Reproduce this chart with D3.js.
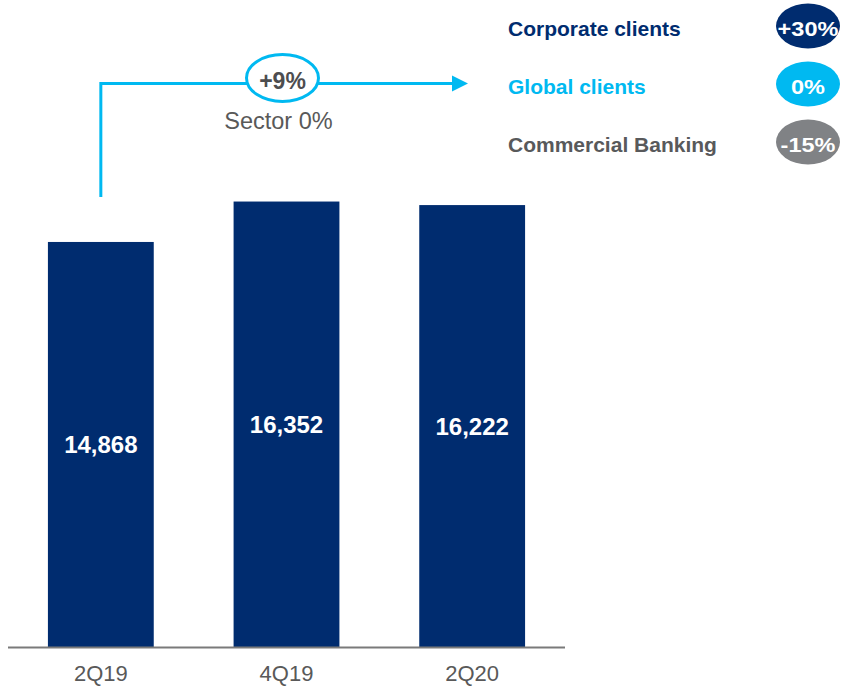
<!DOCTYPE html>
<html>
<head>
<meta charset="utf-8">
<script src="https://cdn.jsdelivr.net/npm/d3@7"></script>
<style>
  html, body { margin: 0; padding: 0; background: #fff; }
  svg { display: block; font-family: "Liberation Sans", Arial, Helvetica, sans-serif; }
</style>
</head>
<body>
<svg id="chart" width="846" height="686"></svg>
<script>
// Quarterly totals
const categories = ["2Q19", "4Q19", "2Q20"];
const values = [14868, 16352, 16222];

// Year-on-year growth callout
const growthLabel = "+9%";
const sectorLabel = "Sector 0%";

// Growth by client segment
const segments = ["Corporate clients", "Global clients", "Commercial Banking"];
const segmentChanges = ["+30%", "0%", "-15%"];

const NAVY = "#002c6f";
const CYAN = "#00b9f1";
const GREY = "#808285";
const TEXT_GREY = "#58595b";
const segmentColors = [NAVY, CYAN, GREY];
const segmentTextColors = [NAVY, CYAN, TEXT_GREY];

const svg = d3.select("#chart");
const fmt = d3.format(",");

const x = d3.scaleBand()
  .domain(categories)
  .range([8, 565])
  .paddingInner(0.43)
  .paddingOuter(0.215);

const y = d3.scaleLinear()
  .domain([0, 23750])
  .range([647, 0]);

// Bars
svg.append("g")
  .selectAll("rect")
  .data(values)
  .join("rect")
  .attr("x", (d, i) => x(categories[i]))
  .attr("y", d => y(d))
  .attr("width", x.bandwidth())
  .attr("height", d => y(0) - y(d))
  .attr("fill", NAVY);

// Value labels, centred inside each bar
svg.append("g")
  .selectAll("text")
  .data(values)
  .join("text")
  .attr("x", (d, i) => x(categories[i]) + x.bandwidth() / 2)
  .attr("y", d => (y(d) + y(0)) / 2 + 9)
  .attr("text-anchor", "middle")
  .attr("fill", "#fff")
  .attr("font-weight", "bold")
  .attr("font-size", 24)
  .text(d => fmt(d));

// Category axis
const axis = svg.append("g")
  .attr("transform", `translate(0,${y(0)})`)
  .call(d3.axisBottom(x).tickSize(0).tickPadding(0).tickSizeOuter(0));
axis.select(".domain")
  .attr("stroke", "#7a7a7a")
  .attr("stroke-width", 2)
  .attr("d", `M8,0.5H565`);
axis.selectAll(".tick text")
  .attr("y", 34)
  .attr("dy", null)
  .attr("fill", "#595959")
  .attr("font-size", 22)
  .attr("font-family", "Liberation Sans, Arial, sans-serif");

// Growth arrow from the first quarter onwards
const ax0 = x(categories[0]) + x.bandwidth() / 2;
const arrowY = 83.5;
const arrowEnd = 468;
const callout = svg.append("g");
callout.append("path")
  .attr("d", `M${ax0},197V${arrowY}H${arrowEnd - 14}`)
  .attr("fill", "none")
  .attr("stroke", CYAN)
  .attr("stroke-width", 3);
callout.append("path")
  .attr("d", `M${arrowEnd},${arrowY}L${arrowEnd - 16},${arrowY - 8}L${arrowEnd - 16},${arrowY + 8}Z`)
  .attr("fill", CYAN);
callout.append("ellipse")
  .attr("cx", 282.5)
  .attr("cy", 78)
  .attr("rx", 36)
  .attr("ry", 23.5)
  .attr("fill", "#fff")
  .attr("stroke", CYAN)
  .attr("stroke-width", 3);
callout.append("text")
  .attr("x", 282.5)
  .attr("y", 89)
  .attr("text-anchor", "middle")
  .attr("font-weight", "bold")
  .attr("font-size", 23)
  .attr("fill", "#4d4d4f")
  .text(growthLabel);
callout.append("text")
  .attr("x", 278.5)
  .attr("y", 128.5)
  .attr("text-anchor", "middle")
  .attr("font-size", 23.5)
  .attr("fill", "#595959")
  .text(sectorLabel);

// Segment legend with growth badges
const rowY = d3.scalePoint().domain(segments).range([26, 142]);
const rows = svg.append("g")
  .selectAll("g")
  .data(segments)
  .join("g")
  .attr("transform", d => `translate(0,${rowY(d)})`);

rows.append("text")
  .attr("x", 508)
  .attr("y", 9.5)
  .attr("font-weight", "bold")
  .attr("font-size", 21)
  .attr("fill", (d, i) => segmentTextColors[i])
  .text(d => d);

rows.append("ellipse")
  .attr("cx", 808)
  .attr("cy", 0)
  .attr("rx", 32)
  .attr("ry", 22.5)
  .attr("fill", (d, i) => segmentColors[i]);

rows.append("text")
  .attr("transform", "translate(808,10) scale(1.12,1)")
  .attr("text-anchor", "middle")
  .attr("font-weight", "bold")
  .attr("font-size", 21)
  .attr("fill", "#fff")
  .text((d, i) => segmentChanges[i]);
</script>
</body>
</html>
